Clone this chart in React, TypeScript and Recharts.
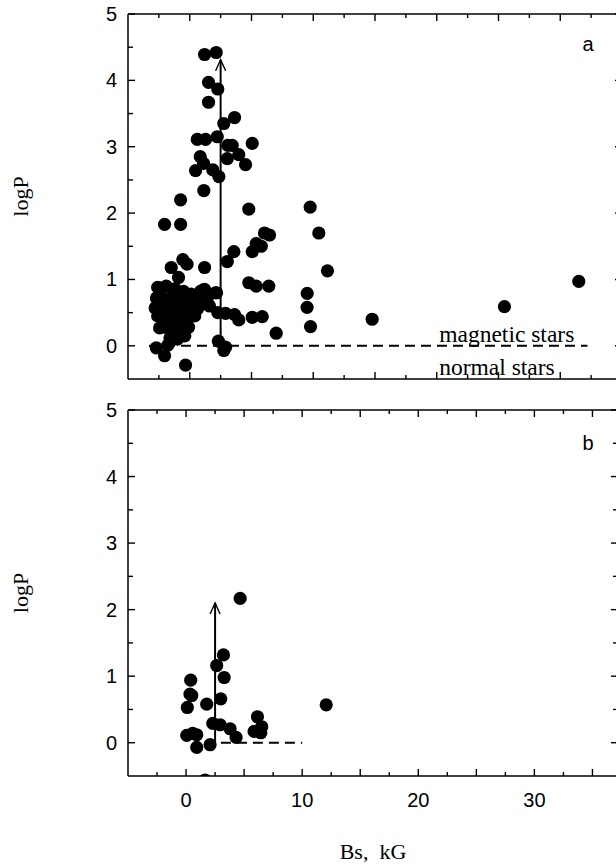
import React from 'react';
import { ScatterChart, Scatter, XAxis, YAxis, ReferenceLine, ReferenceDot, Label } from 'recharts';

// ---------- data ----------
// Panel a: [Bs (kG), logP]
const panelAUpper: [number, number][] = [
  [1.2, 4.39], [2.14, 4.42], [1.52, 3.97], [2.27, 3.87], [1.52, 3.67], [3.63, 3.44], [2.76, 3.35],
  [0.61, 3.11], [1.28, 3.11], [2.23, 3.15], [3.08, 3.02], [3.44, 3.02], [5.06, 3.05], [0.85, 2.85],
  [3.97, 2.88], [3.04, 2.82], [1.12, 2.75], [4.52, 2.73], [0.47, 2.64], [1.87, 2.65], [2.36, 2.55],
  [1.14, 2.34], [-0.74, 2.2],
];
const panelAMiddle: [number, number][] = [
  [4.78, 2.06], [9.75, 2.09], [10.45, 1.7], [-2.04, 1.83], [-0.74, 1.83], [6.05, 1.7], [6.46, 1.67],
  [5.38, 1.54], [5.79, 1.5], [5.06, 1.42], [3.57, 1.42], [3.04, 1.27], [-0.56, 1.3], [-0.22, 1.23],
  [-1.5, 1.18], [1.2, 1.18], [11.15, 1.13], [-0.91, 1.03], [4.78, 0.95], [5.38, 0.9], [6.4, 0.9],
  [9.51, 0.79], [9.5, 0.58], [9.78, 0.29], [7.0, 0.19], [14.77, 0.4], [25.48, 0.59], [31.5, 0.97],
];
const panelALower: [number, number][] = [
  [2.17, 0.8], [1.2, 0.85], [0.87, 0.82], [2.27, 0.5], [2.9, 0.49], [3.63, 0.47], [3.97, 0.39],
  [5.06, 0.43], [5.87, 0.44], [2.32, 0.07], [2.9, -0.02], [2.76, -0.07], [-0.34, -0.29],
];
const panelACluster: [number, number][] = [
  [-2.71, -0.03], [-2.04, -0.15], [-1.77, 0.01], [-2.44, 0.27], [-2.5, 0.49], [-2.31, 0.87],
  [1.06, 0.84], [2.09, 0.8], [0.79, 0.72], [0.53, 0.6],
  [-2.6, 0.88], [-1.9, 0.9], [-1.2, 0.86], [-0.5, 0.82], [0.1, 0.78],
  [-2.7, 0.72], [-2.1, 0.7], [-1.5, 0.73], [-0.9, 0.68], [-0.3, 0.7], [0.3, 0.66],
  [-2.8, 0.57], [-2.3, 0.58], [-1.7, 0.56], [-1.1, 0.53], [-0.5, 0.55], [0.1, 0.5],
  [-2.6, 0.45], [-2.0, 0.42], [-1.4, 0.4], [-0.8, 0.38], [-0.2, 0.4], [0.4, 0.45],
  [-2.0, 0.28], [-1.3, 0.25], [-0.7, 0.22], [-0.1, 0.28],
  [-1.6, 0.12], [-1.0, 0.1], [-0.4, 0.15],
  [0.9, 0.62], [1.4, 0.7], [0.6, 0.55], [1.6, 0.6],
];
// Panel b: [Bs (kG), logP]
const panelBPoints: [number, number][] = [
  [4.66, 2.17], [3.22, 1.32], [2.64, 1.16], [3.28, 0.98], [0.4, 0.94], [0.34, 0.73], [0.49, 0.71],
  [2.99, 0.66], [0.11, 0.53], [1.78, 0.58], [12.07, 0.57], [6.15, 0.39], [2.3, 0.29], [2.93, 0.27],
  [3.79, 0.21], [6.52, 0.24], [5.86, 0.17], [6.44, 0.15], [4.31, 0.08], [0.06, 0.11], [0.57, 0.14],
  [0.92, 0.12], [0.92, -0.07], [2.07, -0.03], [1.64, -0.56],
];

// reference lines / arrows: [Bs, logP]
const arrowA: [number, number][] = [[2.5, 0], [2.5, 4.31]];
const dashA: [number, number][] = [[-3.3, 0], [32.2, 0]];
const arrowB: [number, number][] = [[2.5, 0], [2.5, 2.1]];
const dashB: [number, number][] = [[3, 0], [10, 0]];

// axes
const xDomainA: [number, number] = [-5, 35];
const xDomainB: [number, number] = [-5, 37.2];
const xTicksA = [-2.5, 0, 2.5, 5, 7.5, 10, 12.5, 15, 17.5, 20, 22.5, 25, 27.5, 30, 32.5];
const xTicksB = [-2.5, 0, 2.5, 5, 7.5, 10, 12.5, 15, 17.5, 20, 22.5, 25, 27.5, 30, 32.5, 35];
const xLabelValues = [0, 10, 20, 30];
const yDomain: [number, number] = [-0.5, 5];
const yTicks = [0, 0.5, 1, 1.5, 2, 2.5, 3, 3.5, 4, 4.5, 5];
const yLabelValues = [0, 1, 2, 3, 4, 5];

// text
const yTitle = 'logP';
const xTitle = 'Bs,\u00a0\u00a0kG';
const magneticText = 'magnetic stars';
const normalText = 'normal stars';
const magneticPos: [number, number] = [20.2, 0.06];
const normalPos: [number, number] = [20.2, -0.44];

// ---------- styling ----------
const SANS = '"Liberation Sans", Arial, sans-serif';
const SERIF = '"Liberation Serif", "Times New Roman", serif';
const INK = '#000';

const toObj = (arr: [number, number][]) => arr.map(([x, y]) => ({ x, y }));
const seg = (arr: [number, number][]) => arr.map(([x, y]) => ({ x, y }));

const isMult = (v: number, m: number) => Math.abs(v / m - Math.round(v / m)) < 1e-6;

const makeXTick = (side: 'bottom' | 'top', showLabels: boolean) => (props: any) => {
  const { x, y, payload } = props;
  const v = payload.value;
  const len = isMult(v, 5) ? 7 : 4;
  const dir = side === 'bottom' ? -1 : 1;
  return (
    <g>
      <line x1={x} y1={y} x2={x} y2={y + dir * len} stroke={INK} strokeWidth={1.4} />
      {showLabels && side === 'bottom' && xLabelValues.includes(v) && (
        <text x={x} y={y + 31} textAnchor="middle" fontFamily={SANS} fontSize={20} fill={INK}>
          {v}
        </text>
      )}
    </g>
  );
};

const makeYTick = (side: 'left' | 'right') => (props: any) => {
  const { x, y, payload } = props;
  const v = payload.value;
  const len = isMult(v, 1) ? 7 : 5;
  const dir = side === 'left' ? 1 : -1;
  return (
    <g>
      <line x1={x} y1={y} x2={x + dir * len} y2={y} stroke={INK} strokeWidth={1.4} />
      {side === 'left' && yLabelValues.includes(v) && (
        <text x={x - 11} y={y + 7} textAnchor="end" fontFamily={SANS} fontSize={20} fill={INK}>
          {v}
        </text>
      )}
    </g>
  );
};

const Dot = (props: any) => <circle cx={props.cx} cy={props.cy} r={6.6} fill={INK} />;

const arrowShape = (p: any) => {
  const top = Math.min(p.y1, p.y2);
  const bot = Math.max(p.y1, p.y2);
  const x = p.x1;
  return (
    <g>
      <line x1={x} y1={bot} x2={x} y2={top} stroke={INK} strokeWidth={2} />
      <path d={`M${x - 5},${top + 11} L${x},${top} L${x + 5},${top + 11}`} fill="none" stroke={INK} strokeWidth={1.4} />
    </g>
  );
};

const yTitleLabel = (p: any) => {
  const vb = p.viewBox;
  const cx = 20;
  const cy = vb.y + vb.height / 2;
  return (
    <text x={cx} y={cy} transform={`rotate(-90 ${cx} ${cy})`} textAnchor="middle" dominantBaseline="central"
      fontFamily={SERIF} fontSize={22} fill={INK}>
      {yTitle}
    </text>
  );
};

const panelLetter = (letter: string, dy: number) => (p: any) => {
  const vb = p.viewBox;
  return (
    <text x={588} y={vb.y + vb.height + dy} textAnchor="middle" fontFamily={SANS} fontSize={20} fill={INK}>
      {letter}
    </text>
  );
};

const xTitleLabel = (p: any) => {
  const vb = p.viewBox;
  return (
    <text x={vb.x + vb.width / 2} y={vb.y + vb.height + 82} textAnchor="middle" fontFamily={SERIF} fontSize={22} fill={INK}
      style={{ whiteSpace: 'pre' }}>
      {xTitle}
    </text>
  );
};

const stripText = (text: string) => (p: any) => {
  const vb = p.viewBox;
  return (
    <text x={vb.x} y={vb.y} textAnchor="start" fontFamily={SERIF} fontSize={23.5} fill={INK}>
      {text}
    </text>
  );
};

const axisLine = { stroke: INK, strokeWidth: 1.5 };

export default function App() {
  const dataA = [...toObj(panelACluster), ...toObj(panelALower), ...toObj(panelAMiddle), ...toObj(panelAUpper)];
  const dataB = toObj(panelBPoints);

  return (
    <div style={{ position: 'absolute', left: 0, top: 0, width: 616, height: 866, overflow: 'hidden', background: '#fff' }}>
      {/* panel a */}
      <div style={{ position: 'absolute', left: 0, top: 0 }}>
        <ScatterChart width={624} height={395} margin={{ top: 13, right: 1, bottom: 15, left: 127 }}>
          <XAxis xAxisId="b" type="number" dataKey="x" domain={xDomainA} allowDataOverflow ticks={xTicksA}
            interval={0} height={1} tickSize={0} tickMargin={0} tickLine={false} axisLine={axisLine}
            tick={makeXTick('bottom', false)} />
          <XAxis xAxisId="t" orientation="top" type="number" dataKey="x" domain={xDomainA} allowDataOverflow ticks={xTicksA}
            interval={0} height={1} tickSize={0} tickMargin={0} tickLine={false} axisLine={axisLine}
            tick={makeXTick('top', false)} label={<Label content={panelLetter('a', 37)} />} />
          <YAxis yAxisId="l" type="number" dataKey="y" domain={yDomain} allowDataOverflow ticks={yTicks}
            interval={0} width={1} tickSize={0} tickMargin={0} tickLine={false} axisLine={axisLine}
            tick={makeYTick('left')} label={<Label content={yTitleLabel} />} />
          <YAxis yAxisId="r" orientation="right" type="number" dataKey="y" domain={yDomain} allowDataOverflow ticks={yTicks}
            interval={0} width={1} tickSize={0} tickMargin={0} tickLine={false} axisLine={axisLine}
            tick={makeYTick('right')} />
          <ReferenceLine xAxisId="b" yAxisId="l" segment={seg(dashA)} stroke={INK} strokeWidth={2} strokeDasharray="10 6" />
          <ReferenceLine xAxisId="b" yAxisId="l" segment={seg(arrowA)} shape={arrowShape} />
          <Scatter xAxisId="b" yAxisId="l" data={dataA} shape={Dot} isAnimationActive={false} />
          <ReferenceDot xAxisId="b" yAxisId="l" x={magneticPos[0]} y={magneticPos[1]} r={0} fill="none" stroke="none"
            label={<Label content={stripText(magneticText)} />} />
          <ReferenceDot xAxisId="b" yAxisId="l" x={normalPos[0]} y={normalPos[1]} r={0} fill="none" stroke="none"
            label={<Label content={stripText(normalText)} />} />
        </ScatterChart>
      </div>
      {/* panel b */}
      <div style={{ position: 'absolute', left: 0, top: 396 }}>
        <ScatterChart width={620} height={470} margin={{ top: 13, right: 1, bottom: 89, left: 127 }}>
          <XAxis xAxisId="b" type="number" dataKey="x" domain={xDomainB} allowDataOverflow ticks={xTicksB}
            interval={0} height={1} tickSize={0} tickMargin={0} tickLine={false} axisLine={axisLine}
            tick={makeXTick('bottom', true)} label={<Label content={xTitleLabel} />} />
          <XAxis xAxisId="t" orientation="top" type="number" dataKey="x" domain={xDomainB} allowDataOverflow ticks={xTicksB}
            interval={0} height={1} tickSize={0} tickMargin={0} tickLine={false} axisLine={axisLine}
            tick={makeXTick('top', false)} label={<Label content={panelLetter('b', 40)} />} />
          <YAxis yAxisId="l" type="number" dataKey="y" domain={yDomain} allowDataOverflow ticks={yTicks}
            interval={0} width={1} tickSize={0} tickMargin={0} tickLine={false} axisLine={axisLine}
            tick={makeYTick('left')} label={<Label content={yTitleLabel} />} />
          <YAxis yAxisId="r" orientation="right" type="number" dataKey="y" domain={yDomain} allowDataOverflow ticks={yTicks}
            interval={0} width={1} tickSize={0} tickMargin={0} tickLine={false} axisLine={axisLine}
            tick={makeYTick('right')} />
          <ReferenceLine xAxisId="b" yAxisId="l" segment={seg(dashB)} stroke={INK} strokeWidth={2} strokeDasharray="10 6" />
          <ReferenceLine xAxisId="b" yAxisId="l" segment={seg(arrowB)} shape={arrowShape} />
          <Scatter xAxisId="b" yAxisId="l" data={dataB} shape={Dot} isAnimationActive={false} />
        </ScatterChart>
      </div>
    </div>
  );
}
